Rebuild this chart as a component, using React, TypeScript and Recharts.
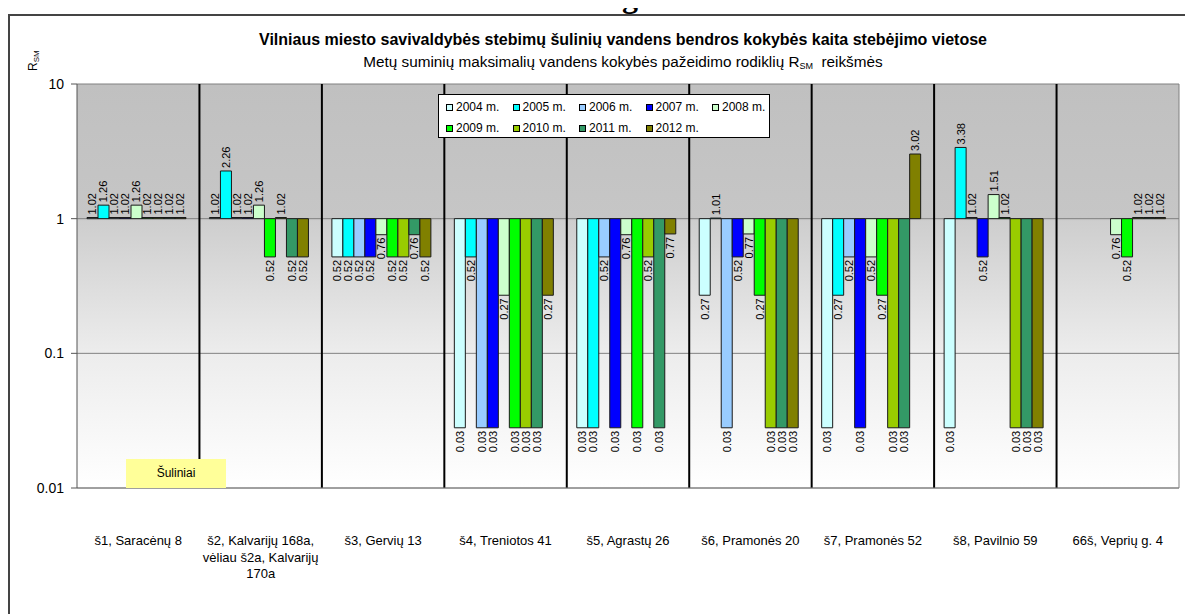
import React from 'react';
import { BarChart, Bar, XAxis, YAxis, CartesianGrid, ReferenceLine, Legend, LabelList, Text } from 'recharts';

const FONT = '"Liberation Sans", Arial, sans-serif';

const categories = [
  'š1, Saracėnų 8',
  'š2, Kalvarijų 168a, vėliau š2a, Kalvarijų 170a',
  'š3, Gervių 13',
  'š4, Treniotos 41',
  'š5, Agrastų 26',
  'š6, Pramonės 20',
  'š7, Pramonės 52',
  'š8, Pavilnio 59',
  '66š, Veprių g. 4',
];

const years = ['2004', '2005', '2006', '2007', '2008', '2009', '2010', '2011', '2012'];
const colors = ['#CCFFFF', '#00FFFF', '#99CCFF', '#0000FF', '#CCFFCC', '#00FF00', '#99CC00', '#339966', '#808000'];

// 0.028 bars are labelled "0.03" (two decimals) in the chart
const s2004 = [1.02, 1.02, 0.52, 0.028, 0.028, 0.27, 0.028, 0.028, null];
const s2005 = [1.26, 2.26, 0.52, 0.52, 0.028, 1.01, 0.27, 3.38, null];
const s2006 = [1.02, 1.02, 0.52, 0.028, 0.52, 0.028, 0.52, 1.02, null];
const s2007 = [1.02, 1.02, 0.52, 0.028, 0.028, 0.52, 0.028, 0.52, null];
const s2008 = [1.26, 1.26, 0.76, 0.27, 0.76, 0.77, 0.52, 1.51, 0.76];
const s2009 = [1.02, 0.52, 0.52, 0.028, 0.028, 0.27, 0.27, 1.02, 0.52];
const s2010 = [1.02, 1.02, 0.52, 0.028, 0.52, 0.028, 0.028, 0.028, 1.02];
const s2011 = [1.02, 0.52, 0.76, 0.028, 0.028, 0.028, 0.028, 0.028, 1.02];
const s2012 = [1.02, 0.52, 0.52, 0.27, 0.77, 0.028, 3.02, 0.028, 1.02];

const seriesValues = [s2004, s2005, s2006, s2007, s2008, s2009, s2010, s2011, s2012];

const yTicks = [0.01, 0.1, 1, 10];

const BASE = 1;

const data = categories.map((name, i) => {
  const row: any = { name };
  years.forEach((yr, k) => {
    const v = seriesValues[k][i];
    row['r' + yr] = v == null ? null : [BASE, v];
    row['v' + yr] = v;
  });
  return row;
});

const BarLabel = (props: any) => {
  const { value } = props;
  if (value == null || typeof value !== 'number') return null;
  const vb = props.viewBox && props.viewBox.width != null ? props.viewBox : props;
  const x = Number(vb.x), y = Number(vb.y), w = Number(vb.width), h = Number(vb.height);
  if (!isFinite(x) || !isFinite(y)) return null;
  const cx = x + w / 2;
  const top = Math.min(y, y + h);
  const bottom = Math.max(y, y + h);
  const up = value >= 1;
  const ay = up ? top - 3 : bottom + 3;
  return (
    <text
      x={cx}
      y={ay}
      dy="0.36em"
      transform={`rotate(-90 ${cx} ${ay})`}
      textAnchor={up ? 'start' : 'end'}
      fontSize={11}
      fontFamily={FONT}
      fill="#000"
    >
      {value.toFixed(2)}
    </text>
  );
};

const XTick = (props: any) => {
  const { x, y, payload } = props;
  return (
    <Text
      x={x}
      y={y + 40}
      width={150}
      textAnchor="middle"
      verticalAnchor="start"
      lineHeight={16.5}
      style={{ fontSize: 13, fontFamily: FONT }}
      fill="#000"
    >
      {payload.value}
    </Text>
  );
};

const LegendBox = (props: any) => {
  const items = (props.payload && props.payload.length ? props.payload : years.map((y, i) => ({ value: y + ' m.', color: colors[i] })));
  return (
    <div
      style={{
        width: 332,
        height: 44,
        background: '#fff',
        border: '1px solid #000',
        boxSizing: 'border-box',
        position: 'relative',
        fontFamily: FONT,
        fontSize: 12,
        color: '#000',
      }}
    >
      {items.map((it: any, i: number) => {
        const row = i < 5 ? 0 : 1;
        const col = i < 5 ? i : i - 5;
        return (
          <div
            key={i}
            style={{
              position: 'absolute',
              left: 7 + col * 66.5,
              top: row ? 26 : 5,
              height: 14,
              display: 'flex',
              alignItems: 'center',
              whiteSpace: 'nowrap',
            }}
          >
            <span
              style={{
                display: 'inline-block',
                width: 5,
                height: 5,
                border: '1px solid #000',
                background: it.color,
                marginRight: 3,
              }}
            />
            {it.value}
          </div>
        );
      })}
    </div>
  );
};

export default function App() {
  return (
    <div
      style={{
        position: 'relative',
        width: 1185,
        height: 600,
        marginTop: 6,
        borderTop: '2px solid #444',
        borderLeft: '2px solid #444',
        boxSizing: 'border-box',
        fontFamily: FONT,
        background: '#fff',
      }}
    >
      <style>{'html,body{overflow:hidden}'}</style>
      <svg width={0} height={0} style={{ position: 'absolute' }}>
        <defs>
          <linearGradient id="plotBg" x1="0" y1="0" x2="0" y2="1">
            <stop offset="0%" stopColor="#c0c0c0" />
            <stop offset="33%" stopColor="#c6c6c6" />
            <stop offset="34%" stopColor="#cecece" />
            <stop offset="66%" stopColor="#ececec" />
            <stop offset="100%" stopColor="#ffffff" />
          </linearGradient>
        </defs>
      </svg>
      <div
        style={{
          position: 'absolute',
          left: 612,
          top: -36,
          fontFamily: '"Liberation Serif", serif',
          fontWeight: 'bold',
          fontSize: 32,
          lineHeight: 1,
          color: '#000',
        }}
      >
        g
      </div>
      <BarChart
        width={1183}
        height={598}
        data={data}
        margin={{ top: 68, right: 14, bottom: 0, left: 27 }}
        barCategoryGap={10}
        barGap={0}
      >
        <CartesianGrid vertical={false} stroke="#808080" fill="url(#plotBg)" fillOpacity={1} />
        <XAxis
          dataKey="name"
          height={126}
          interval={0}
          tickLine={false}
          axisLine={{ stroke: '#808080' }}
          tick={<XTick />}
        />
        <YAxis
          scale="log"
          domain={[0.01, 10]}
          ticks={yTicks}
          allowDataOverflow
          width={40}
          tickSize={6}
          tickMargin={7}
          axisLine={{ stroke: '#555' }}
          tickLine={{ stroke: '#555' }}
          tick={{ fontSize: 14, fill: '#000', fontFamily: FONT }}
        />
        {categories.slice(1).map((c) => (
          <ReferenceLine key={c} x={c} position="start" stroke="#000" strokeWidth={2} />
        ))}
        <ReferenceLine x={categories[categories.length - 1]} position="end" stroke="#808080" strokeWidth={1} />
        <Legend
          layout="horizontal"
          verticalAlign="middle"
          align="center"
          wrapperStyle={{ left: 428, top: 78, width: 332, height: 44 }}
          content={<LegendBox />}
        />
        {years.map((yr, k) => (
          <Bar
            key={yr}
            dataKey={'r' + yr}
            name={yr + ' m.'}
            fill={colors[k]}
            stroke="#1a1a1a"
            strokeWidth={1}
            isAnimationActive={false}
          >
            <LabelList dataKey={'v' + yr} content={<BarLabel />} />
          </Bar>
        ))}
      </BarChart>
      <div
        style={{
          position: 'absolute',
          left: 116,
          top: 443,
          width: 100,
          height: 29,
          background: '#FFFF99',
          fontSize: 12,
          textAlign: 'center',
          lineHeight: '29px',
          color: '#000',
        }}
      >
        Šuliniai
      </div>
      <div
        style={{
          position: 'absolute',
          left: 113,
          width: 1000,
          top: 15,
          textAlign: 'center',
          fontSize: 16,
          fontWeight: 'bold',
          color: '#000',
          lineHeight: '18px',
        }}
      >
        Vilniaus miesto savivaldybės stebimų šulinių vandens bendros kokybės kaita stebėjimo vietose
      </div>
      <div
        style={{
          position: 'absolute',
          left: 113,
          width: 1000,
          top: 37,
          textAlign: 'center',
          fontSize: 15.3,
          color: '#000',
          lineHeight: '17px',
        }}
      >
        Metų suminių maksimalių vandens kokybės pažeidimo rodiklių R<sub style={{ fontSize: 9, verticalAlign: '-2px' }}>SM</sub>&nbsp; reikšmės
      </div>
      <svg width={40} height={60} style={{ position: 'absolute', left: 0, top: 0 }}>
        <text transform="translate(27 55) rotate(-90)" fontSize={12} fontFamily={FONT} fill="#000">
          R<tspan fontSize={8} dy={2}>SM</tspan>
        </text>
      </svg>
    </div>
  );
}
